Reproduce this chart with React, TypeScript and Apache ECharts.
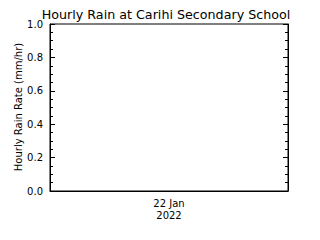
import React, { useEffect, useRef } from "react";
import * as echarts from "echarts";

const titleText = "Hourly Rain at Carihi Secondary School";
const yAxisName = "Hourly Rain Rate (mm/hr)";
const categories = ["22 Jan\n2022"];
const rainValues: (number | null)[] = [null];
const yMin = 0;
const yMax = 1.0;
const yInterval = 0.2;

const FONT = "DejaVu Sans";

export default function App() {
  const ref = useRef<HTMLDivElement>(null);
  useEffect(() => {
    if (!ref.current) return;
    const chart = echarts.init(ref.current, null, { renderer: "svg" });
    const yCommon = {
      type: "value" as const,
      min: yMin,
      max: yMax,
      interval: yInterval,
      axisLine: { show: true, lineStyle: { color: "#000", width: 1 } },
      axisTick: { show: true, inside: true, length: 5, lineStyle: { color: "#000" } },
      minorTick: { show: true, splitNumber: 4, length: 3, lineStyle: { color: "#000" } },
      splitLine: { show: false },
    };
    chart.setOption({
      animation: false,
      backgroundColor: "#fff",
      graphic: [
        {
          type: "text",
          x: 166,
          y: 14,
          style: {
            text: titleText,
            fontFamily: FONT,
            fontSize: 12.7,
            fill: "#000",
            textAlign: "center",
            textVerticalAlign: "middle",
          },
        },
        {
          type: "text",
          x: 18,
          y: 107,
          rotation: Math.PI / 2,
          style: {
            text: yAxisName,
            fontFamily: FONT,
            fontSize: 10,
            fill: "#000",
            textAlign: "center",
            textVerticalAlign: "middle",
          },
        },
      ],
      grid: { left: 50, right: 32, top: 24, bottom: 49, show: true, borderColor: "#000", borderWidth: 1 },
      xAxis: {
        type: "category",
        data: categories,
        boundaryGap: true,
        axisLine: { show: true, lineStyle: { color: "#000" } },
        axisTick: { show: false },
        axisLabel: { fontFamily: FONT, fontSize: 10, color: "#000", margin: 6, lineHeight: 12 },
      },
      yAxis: [
        {
          ...yCommon,
          position: "left",
          axisLabel: {
            fontFamily: FONT,
            fontSize: 10,
            color: "#000",
            margin: 7,
            formatter: (v: number) => v.toFixed(1),
          },
        },
        {
          ...yCommon,
          position: "right",
          axisLabel: { show: false },
        },
      ],
      series: [
        {
          type: "line",
          data: rainValues,
          showSymbol: false,
          lineStyle: { color: "#000", width: 1 },
        },
      ],
    });
    return () => chart.dispose();
  }, []);
  return <div ref={ref} style={{ width: 320, height: 240, position: "absolute", left: 0, top: 0 }} />;
}
